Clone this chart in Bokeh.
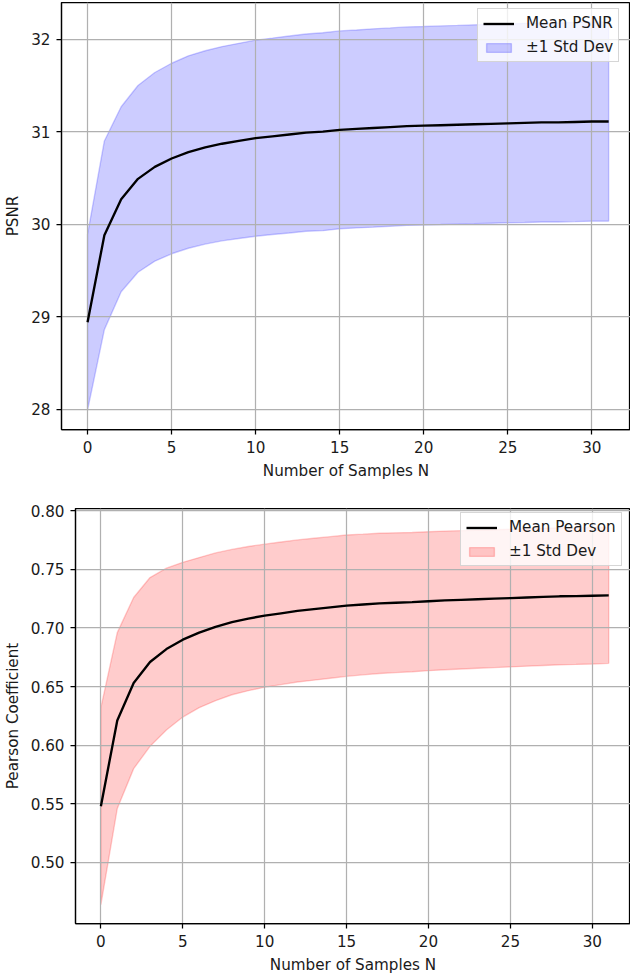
from bokeh.plotting import figure
from bokeh.models import FixedTicker, PrintfTickFormatter, Legend, LegendItem, Range1d
from bokeh.embed import file_html
from bokeh.resources import INLINE

# ---- data ----
n_samples = list(range(32))
psnr_mean = [28.94, 29.88, 30.27, 30.49, 30.62, 30.71, 30.78, 30.83, 30.87, 30.90,
             30.93, 30.95, 30.97, 30.99, 31.00, 31.02, 31.03, 31.04, 31.05, 31.06,
             31.065, 31.07, 31.075, 31.08, 31.085, 31.09, 31.095, 31.10, 31.10, 31.105,
             31.11, 31.11]
psnr_std = [0.95, 1.02, 1.00, 1.01, 1.02, 1.03, 1.04, 1.045, 1.05, 1.055,
            1.06, 1.062, 1.065, 1.067, 1.07, 1.07, 1.07, 1.072, 1.072, 1.073,
            1.073, 1.074, 1.074, 1.075, 1.075, 1.075, 1.076, 1.076, 1.076, 1.077,
            1.077, 1.077]
pearson_mean = [0.548, 0.621, 0.653, 0.671, 0.682, 0.690, 0.696, 0.701, 0.705, 0.708,
                0.7105, 0.7125, 0.7145, 0.716, 0.7175, 0.719, 0.720, 0.721, 0.7215, 0.722,
                0.7228, 0.7235, 0.724, 0.7245, 0.725, 0.7255, 0.726, 0.7265, 0.727, 0.7272,
                0.7275, 0.7278]
pearson_std = [0.084, 0.075, 0.073, 0.072, 0.069, 0.066, 0.064, 0.063, 0.062, 0.0615,
               0.061, 0.0608, 0.0606, 0.0605, 0.0604, 0.0603, 0.0600, 0.0598, 0.0596, 0.0594,
               0.0592, 0.0591, 0.059, 0.0589, 0.0588, 0.0587, 0.0586, 0.0585, 0.0584, 0.0583,
               0.0582, 0.058]
x_ticks = [0, 5, 10, 15, 20, 25, 30]
psnr_ticks = [28, 29, 30, 31, 32]
pearson_ticks = [0.50, 0.55, 0.60, 0.65, 0.70, 0.75, 0.80]

FONT = "DejaVu Sans"
FS = "15.2px"
TXT = "#1a1a1a"


def make_panel(mean, std, color, y_label, mean_label, yticks, yfmt,
               height, left, top, bottom, x_end, legend_xy):
    lo = [m - s for m, s in zip(mean, std)]
    hi = [m + s for m, s in zip(mean, std)]
    span = max(hi) - min(lo)
    p = figure(width=630, height=height, output_backend="svg", toolbar_location=None,
               x_range=Range1d(-1.55, x_end),
               y_range=Range1d(min(lo) - 0.05 * span, max(hi) + 0.05 * span),
               min_border_left=left, min_border_right=0,
               min_border_top=top, min_border_bottom=bottom)
    p.background_fill_color = "white"
    p.border_fill_color = "white"
    p.outline_line_color = "black"
    p.outline_line_width = 1.25

    band = p.patch(x=n_samples + n_samples[::-1], y=hi + lo[::-1],
                   fill_color=color, fill_alpha=0.2,
                   line_color=color, line_alpha=0.2, line_width=1.4, level="image")
    line = p.line(x=n_samples, y=mean, line_color="black", line_width=2.35)

    for g in p.grid:
        g.grid_line_color = "#b0b0b0"
        g.grid_line_width = 1.25
    p.xgrid.ticker = FixedTicker(ticks=x_ticks)
    p.ygrid.ticker = FixedTicker(ticks=yticks)

    for ax in (p.xaxis[0], p.yaxis[0]):
        ax.axis_line_color = "black"
        ax.axis_line_width = 1.25
        ax.major_tick_line_color = "black"
        ax.major_tick_line_width = 1.25
        ax.major_tick_in = 0
        ax.major_tick_out = 5
        ax.minor_tick_line_color = None
        ax.major_label_standoff = 6
        ax.major_label_text_font = FONT
        ax.major_label_text_font_size = FS
        ax.major_label_text_color = TXT
        ax.axis_label_text_font = FONT
        ax.axis_label_text_font_size = FS
        ax.axis_label_text_font_style = "normal"
        ax.axis_label_text_color = TXT
        ax.axis_label_standoff = 6
    p.xaxis[0].ticker = FixedTicker(ticks=x_ticks)
    p.yaxis[0].ticker = FixedTicker(ticks=yticks)
    p.yaxis[0].formatter = PrintfTickFormatter(format=yfmt)
    p.xaxis[0].axis_label = "Number of Samples N"
    p.yaxis[0].axis_label = y_label

    legend = Legend(items=[LegendItem(label=mean_label, renderers=[line]),
                           LegendItem(label="\u00b11 Std Dev", renderers=[band])],
                    location=legend_xy)
    legend.label_text_font = FONT
    legend.label_text_font_size = FS
    legend.label_text_color = TXT
    legend.glyph_width = 31
    legend.glyph_height = 11
    legend.label_standoff = 12
    legend.padding = 5
    legend.spacing = 6
    legend.margin = 0
    legend.background_fill_color = "white"
    legend.background_fill_alpha = 0.8
    legend.border_line_color = "#cccccc"
    legend.border_line_alpha = 0.8
    legend.border_line_width = 1.25
    p.add_layout(legend)
    return p


p1 = make_panel(psnr_mean, psnr_std, "blue", "PSNR", "Mean PSNR", psnr_ticks, "%d",
                height=485, left=61, top=2, bottom=56, x_end=32.30, legend_xy=(416, 367))
p2 = make_panel(pearson_mean, pearson_std, "red", "Pearson Coefficient", "Mean Pearson",
                pearson_ticks, "%.2f",
                height=491, left=74, top=23, bottom=53, x_end=32.33, legend_xy=(385, 357))

with open("out.html", "w") as f:
    f.write(file_html([p1, p2], INLINE))
